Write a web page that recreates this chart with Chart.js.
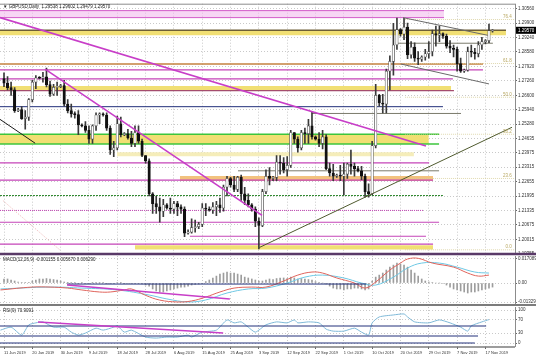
<!DOCTYPE html>
<html>
<head>
<meta charset="utf-8">
<script src="https://cdn.jsdelivr.net/npm/chart.js@4.4.1/dist/chart.umd.min.js"></script>
<style>
  html, body { margin: 0; padding: 0; background: #fff; overflow: hidden; }
  #wrap { position: relative; width: 536px; height: 358px; }
  canvas { position: absolute; left: 0; }
</style>
</head>
<body>
<div id="wrap">
  <canvas id="mainChart" width="536" height="262" style="top:0"></canvas>
  <canvas id="macdChart" width="536" height="60" style="top:250px"></canvas>
  <canvas id="rsiChart" width="536" height="58" style="top:300px"></canvas>
</div>
<script>
// ── GBPUSD daily bars, 11 Jun 2019 .. 19 Nov 2019 (Sunday bars included) ──
const opens = [1.2736,1.2716,1.2695,1.2685,1.2590,1.2595,1.2553,1.2560,1.2640,1.2720,
  1.2740,1.2738,1.2744,1.2709,1.2665,1.2696,1.2700,1.2705,1.2620,1.2590,
  1.2575,1.2572,1.2525,1.2520,1.2500,1.2460,1.2520,1.2570,1.2575,1.2570,
  1.2510,1.2410,1.2420,1.2530,1.2480,1.2485,1.2465,1.2440,1.2490,1.2450,
  1.2385,1.2360,1.2210,1.2165,1.2150,1.2130,1.2160,1.2145,1.2140,1.2165,
  1.2150,1.2140,1.2030,1.2035,1.2055,1.2060,1.2070,1.2145,1.2140,1.2135,
  1.2150,1.2160,1.2145,1.2240,1.2280,1.2250,1.2230,1.2285,1.2210,1.2180,
  1.2160,1.2140,1.2085,1.2065,1.2220,1.2290,1.2280,1.2285,1.2355,1.2350,
  1.2320,1.2340,1.2490,1.2460,1.2420,1.2490,1.2485,1.2520,1.2470,1.2460,
  1.2440,1.2470,1.2325,1.2305,1.2290,1.2295,1.2290,1.2300,1.2345,1.2335,
  1.2325,1.2315,1.2290,1.2220,1.2210,1.2430,1.2660,1.2625,1.2620,1.2770,
  1.2815,1.2890,1.2960,1.2940,1.2972,1.2845,1.2880,1.2830,1.2825,1.2835,
  1.2850,1.2860,1.2942,1.2935,1.2942,1.2930,1.2885,1.2875,1.2870,1.2805,
  1.2770,1.2775,1.2860,1.2857,1.2850,1.2890,1.2905,1.2910,1.2954];
const highs = [1.2763,1.2745,1.2720,1.2695,1.2600,1.2608,1.2590,1.2645,1.2728,1.2750,
  1.2745,1.2765,1.2784,1.2725,1.2710,1.2720,1.2710,1.2728,1.2640,1.2620,
  1.2585,1.2590,1.2530,1.2540,1.2520,1.2525,1.2580,1.2580,1.2580,1.2580,
  1.2520,1.2450,1.2565,1.2560,1.2490,1.2505,1.2495,1.2520,1.2520,1.2460,
  1.2385,1.2370,1.2215,1.2200,1.2190,1.2185,1.2165,1.2190,1.2175,1.2175,
  1.2160,1.2150,1.2045,1.2095,1.2090,1.2080,1.2165,1.2165,1.2150,1.2170,
  1.2175,1.2190,1.2250,1.2290,1.2285,1.2290,1.2290,1.2295,1.2240,1.2210,
  1.2165,1.2150,1.2100,1.2230,1.2320,1.2330,1.2290,1.2385,1.2385,1.2375,
  1.2380,1.2500,1.2490,1.2470,1.2500,1.2510,1.2550,1.2583,1.2475,1.2490,
  1.2500,1.2480,1.2350,1.2345,1.2300,1.2340,1.2350,1.2350,1.2410,1.2350,
  1.2335,1.2335,1.2300,1.2255,1.2450,1.2710,1.2665,1.2665,1.2780,1.2840,
  1.2989,1.3013,1.2965,1.3012,1.2990,1.2905,1.2900,1.2860,1.2840,1.2870,
  1.2905,1.2958,1.2976,1.2976,1.2945,1.2940,1.2910,1.2890,1.2880,1.2830,
  1.2780,1.2880,1.2890,1.2875,1.2905,1.2925,1.2915,1.2985,1.2960];
const lows = [1.2700,1.2685,1.2660,1.2582,1.2585,1.2550,1.2505,1.2545,1.2630,1.2690,
  1.2735,1.2720,1.2698,1.2655,1.2660,1.2660,1.2695,1.2610,1.2580,1.2560,
  1.2555,1.2480,1.2515,1.2490,1.2440,1.2440,1.2500,1.2530,1.2565,1.2500,
  1.2390,1.2380,1.2410,1.2470,1.2475,1.2460,1.2425,1.2425,1.2440,1.2380,
  1.2350,1.2200,1.2120,1.2120,1.2080,1.2105,1.2140,1.2120,1.2120,1.2110,
  1.2120,1.2014,1.2025,1.2030,1.2035,1.2050,1.2060,1.2110,1.2130,1.2120,
  1.2110,1.2125,1.2130,1.2200,1.2240,1.2220,1.2220,1.2180,1.2160,1.2150,
  1.2130,1.2060,1.1958,1.2060,1.2210,1.2250,1.2270,1.2270,1.2300,1.2305,
  1.2290,1.2330,1.2440,1.2400,1.2410,1.2440,1.2440,1.2460,1.2455,1.2425,
  1.2415,1.2320,1.2290,1.2270,1.2285,1.2270,1.2205,1.2280,1.2300,1.2290,
  1.2310,1.2275,1.2195,1.2195,1.2205,1.2420,1.2610,1.2580,1.2580,1.2685,
  1.2752,1.2870,1.2930,1.2914,1.2827,1.2830,1.2815,1.2800,1.2815,1.2820,
  1.2830,1.2840,1.2885,1.2905,1.2920,1.2875,1.2855,1.2835,1.2770,1.2765,
  1.2765,1.2770,1.2835,1.2825,1.2835,1.2870,1.2895,1.2900,1.2948];
const closes = [1.2716,1.2695,1.2685,1.2590,1.2595,1.2553,1.2560,1.2640,1.2720,1.2740,
  1.2738,1.2744,1.2709,1.2665,1.2696,1.2700,1.2705,1.2620,1.2590,1.2575,
  1.2572,1.2525,1.2520,1.2500,1.2460,1.2520,1.2570,1.2575,1.2570,1.2510,
  1.2410,1.2420,1.2530,1.2480,1.2485,1.2465,1.2440,1.2490,1.2450,1.2385,
  1.2360,1.2210,1.2165,1.2150,1.2130,1.2160,1.2145,1.2140,1.2165,1.2150,
  1.2140,1.2030,1.2035,1.2055,1.2060,1.2070,1.2145,1.2140,1.2135,1.2150,
  1.2160,1.2145,1.2240,1.2280,1.2250,1.2230,1.2285,1.2210,1.2180,1.2160,
  1.2140,1.2085,1.2065,1.2220,1.2290,1.2280,1.2285,1.2355,1.2350,1.2320,
  1.2340,1.2490,1.2460,1.2420,1.2490,1.2485,1.2520,1.2470,1.2460,1.2440,
  1.2470,1.2325,1.2305,1.2290,1.2295,1.2290,1.2300,1.2345,1.2335,1.2325,
  1.2315,1.2290,1.2220,1.2210,1.2430,1.2660,1.2625,1.2620,1.2770,1.2815,
  1.2890,1.2960,1.2940,1.2972,1.2845,1.2880,1.2830,1.2825,1.2835,1.2850,
  1.2860,1.2942,1.2935,1.2942,1.2930,1.2885,1.2875,1.2870,1.2805,1.2770,
  1.2775,1.2860,1.2857,1.2850,1.2890,1.2905,1.2910,1.2955,1.2957];

// ── time axis ──
const dateIdx = [0, 8, 16, 24, 32, 40, 48, 56, 64, 72, 80, 88, 96, 104, 112, 120, 128, 136];
const dateLabels = ['11 Jun 2019', '20 Jun 2019', '30 Jun 2019', '9 Jul 2019', '18 Jul 2019',
  '28 Jul 2019', '6 Aug 2019', '15 Aug 2019', '25 Aug 2019', '3 Sep 2019', '12 Sep 2019',
  '22 Sep 2019', '1 Oct 2019', '10 Oct 2019', '20 Oct 2019', '29 Oct 2019', '7 Nov 2019', '17 Nov 2019'];

// ── price axis ──
const priceTicks = [1.30560, 1.29900, 1.29240, 1.28580, 1.27920, 1.27260, 1.26600, 1.25940, 1.25280,
  1.24635, 1.23975, 1.23315, 1.22655, 1.21995, 1.21335, 1.20675, 1.20015, 1.19355];

// ── horizontal levels drawn on the chart (price, first bar, last bar) ──
const levelPrice = [1.3047, 1.3015, 1.2957, 1.2898, 1.2803, 1.2776, 1.2735, 1.2681, 1.2608, 1.2577,
  1.2482, 1.2437, 1.2351, 1.2315, 1.2272, 1.2202, 1.2134, 1.2080, 1.2016, 1.1980];
const levelFrom = [-1.13, -1.13, -1.13, 110.7, -1.13, -1.13, -1.13, -1.13, -1.13, 87.0,
  -1.13, -1.13, -1.13, 66.1, -1.13, -1.13, -1.13, -1.13, 52.5, -1.13];
const levelTo = [124.3, 124.3, 141.8, 138.1, 135.3, 135.3, 126.8, 127.1, 124.0, 129.1,
  122.9, 122.9, 120.1, 122.9, 121.2, 124.0, 118.4, 122.9, 119.2, 121.2];
const levelKind = ['pink', 'pink', 'olive', 'gray', 'orange', 'magenta', 'magenta', 'maroon', 'navy', 'gray',
  'green', 'green', 'magenta', 'gray', 'magenta', 'greenDash', 'magentaDot', 'magenta', 'magenta', 'magenta'];

// ── shaded zones (top, bottom, first bar, last bar) ──
const bandTop = [1.3047, 1.2955, 1.2703, 1.2480, 1.2400, 1.2291, 1.1975];
const bandBottom = [1.3015, 1.2934, 1.2681, 1.2437, 1.2382, 1.2268, 1.1955];
const bandFrom = [-1.13, -1.13, -1.13, -1.13, 31.9, 49.7, 37.0];
const bandTo = [124.3, 141.8, 126.3, 120.0, 115.8, 121.2, 121.2];
const bandKind = ['pink', 'yellow', 'yellow', 'yellow', 'pale', 'orange', 'yellow'];

// ── fibonacci levels ──
const fibPrice = [1.3006, 1.2805, 1.2651, 1.2482, 1.2280, 1.1954];
const fibName = ['76.4', '61.8', '50.0', '38.2', '23.6', '0.0'];
const fibFrom = 113.3;
const fibTo = 144.35;

// ── trend lines (bar, price) -> (bar, price) ──
const trendX0 = [-1.13, 11.6, -1.13, 71.8, 112.7, 112.1, -0.3];
const trendY0 = [1.3015, 1.2780, 1.2550, 1.1962, 1.3015, 1.2803, 1.2179];
const trendX1 = [119.2, 72.9, 8.8, 143.5, 136.7, 137.0, 15.8];
const trendY1 = [1.2428, 1.2111, 1.2441, 1.2514, 1.2934, 1.2712, 1.1953];
const trendKind = ['trendMagenta', 'trendMagenta', 'black', 'trendOlive', 'channel', 'channel', 'redDot'];

// ── MACD(12,26,9) ──
const macdHist = [0.0028,0.0028,0.0021,0.0014,0.0007,0.0003,0.0003,0.0003,0.0014,0.0021,
  0.0028,0.0028,0.0031,0.0028,0.0024,0.0021,0.0014,0.0007,0.0005,0.0003,
  0.0003,-0.0003,0.0002,-0.0003,-0.0004,0.0002,0.0003,0.0004,0.0002,-0.0002,
  -0.0004,-0.0003,0.0003,0.0002,-0.0002,-0.0003,-0.0004,-0.0002,-0.0003,-0.0007,
  -0.0014,-0.0021,-0.0041,-0.0055,-0.0062,-0.0062,-0.0055,-0.0048,-0.0041,-0.0035,
  -0.0028,-0.0028,-0.0021,-0.0014,-0.0010,-0.0007,-0.0003,0.0010,0.0021,0.0035,
  0.0048,0.0062,0.0069,0.0076,0.0069,0.0069,0.0062,0.0055,0.0041,0.0035,
  0.0028,0.0021,0.0014,0.0014,0.0021,0.0028,0.0024,0.0031,0.0035,0.0035,
  0.0031,0.0041,0.0035,0.0028,0.0031,0.0028,0.0024,0.0021,0.0010,0.0003,
  0.0000,-0.0007,-0.0021,-0.0035,-0.0041,-0.0041,-0.0048,-0.0041,-0.0041,-0.0035,
  -0.0035,-0.0041,-0.0048,-0.0041,0.0014,0.0041,0.0055,0.0069,0.0090,0.0110,
  0.0124,0.0138,0.0131,0.0124,0.0110,0.0090,0.0069,0.0048,0.0028,0.0014,
  0.0007,0.0003,0.0000,0.0000,-0.0003,-0.0014,-0.0028,-0.0041,-0.0048,-0.0055,
  -0.0062,-0.0069,-0.0062,-0.0062,-0.0055,-0.0048,-0.0041,-0.0035,-0.0028];
const macdX = [-1, 8, 13, 18, 22, 27, 30, 34, 36, 40, 44, 49, 53, 57, 61, 65, 70, 74, 79, 83,
  87, 90, 94, 99, 102, 105, 109, 112, 114, 117, 121, 127, 131, 134, 137];
const macdMain = [-0.0048, -0.0028, -0.0028, -0.0035, -0.0048, -0.0062, -0.0062, -0.0048, -0.0041, -0.0085,
  -0.0118, -0.0131, -0.0124, -0.0097, -0.0062, -0.0035, -0.0028, -0.0028, 0.0014, 0.0055,
  0.0076, 0.0069, 0.0035, 0.0000, -0.0035, 0.0007, 0.0090, 0.0138, 0.0166, 0.0171,
  0.0138, 0.0110, 0.0069, 0.0048, 0.0055];
const sigX = [-1, 13, 22, 32, 41, 46, 52, 57, 63, 69, 74, 80, 85, 90, 96, 101, 105, 110, 114, 118,
  123, 128, 133, 137];
const macdSignal = [-0.0041, -0.0028, -0.0035, -0.0048, -0.0083, -0.0110, -0.0131, -0.0117, -0.0069, -0.0041,
  -0.0035, 0.0000, 0.0041, 0.0055, 0.0035, 0.0000, -0.0014, 0.0041, 0.0104, 0.0138,
  0.0138, 0.0110, 0.0076, 0.0069];
const macdTicks = [0.017089, 0, -0.01329];
const macdTickText = ['0.017089', '0.00', '-0.013290'];
const macdLineX0 = [17.8, 17.8];
const macdLineY0 = [-0.0014, -0.0007];
const macdLineX1 = [63.8, 102.3];
const macdLineY1 = [-0.0110, -0.0007];
const macdLineKind = ['trendMagenta', 'navy'];

// ── RSI(9) ──
const rsiX = [-1, 2, 5, 7, 9, 11, 14, 17, 19, 21, 23, 26, 28, 31, 32, 34, 36, 40, 43, 46,
  49, 52, 53, 56, 60, 63, 65, 67, 69, 71, 74, 77, 80, 82, 83, 86, 89, 91, 93, 96,
  99, 101, 103, 104, 106, 110, 113, 114, 116, 120, 123, 126, 129, 131, 132, 135, 137];
const rsiVal = [39, 48, 24, 55, 61, 64, 48, 48, 33, 24, 30, 45, 39, 48, 52, 33, 39, 18, 15, 18,
  18, 24, 18, 33, 39, 70, 61, 64, 48, 33, 55, 64, 61, 70, 61, 64, 61, 42, 36, 36,
  45, 33, 24, 61, 79, 85, 88, 79, 64, 61, 70, 61, 48, 36, 52, 64, 70.9];
const rsiTicks = [100, 70, 30, 0];
const rsiLineX0 = [9.6, -1.13, -1.13, -1.13];
const rsiLineY0 = [63.6, 51.5, 21.2, 0];
const rsiLineX1 = [61.9, 136.2, 133.9, 133.0];
const rsiLineY1 = [30.3, 51.5, 21.2, 0];
const rsiLineKind = ['trendMagenta', 'navy', 'navy', 'navy'];

// ── view ranges ──
const X_MIN = -1.13, X_MAX = 144.35;
const P_MIN = 1.19348, P_MAX = 1.30786;

// ── styles ──
const GRID = '#c9c9c9';
const FONT = "'Liberation Sans', 'DejaVu Sans', sans-serif";
const LINE = {
  pink:         { borderColor: '#d35ac8', borderWidth: 1 },
  olive:        { borderColor: '#6e5f36', borderWidth: 1.5 },
  gray:         { borderColor: '#7b7b6b', borderWidth: 1 },
  orange:       { borderColor: '#c4823f', borderWidth: 1.5 },
  magenta:      { borderColor: '#c544b8', borderWidth: 1.2 },
  maroon:       { borderColor: '#a44d6e', borderWidth: 1.2 },
  navy:         { borderColor: '#22307a', borderWidth: 1 },
  green:        { borderColor: '#3cc63c', borderWidth: 1.5 },
  greenDash:    { borderColor: '#2f8a2f', borderWidth: 1, borderDash: [2, 1] },
  magentaDot:   { borderColor: '#c544b8', borderWidth: 1, borderDash: [1, 1] },
  black:        { borderColor: '#1a1a1a', borderWidth: 1 },
  trendMagenta: { borderColor: '#c83ec8', borderWidth: 1.6 },
  trendOlive:   { borderColor: '#4f5a2e', borderWidth: 1 },
  channel:      { borderColor: '#6a6a6a', borderWidth: 1 },
  redDot:       { borderColor: '#e8a0a0', borderWidth: 0.8, borderDash: [1, 1.5] },
  fib:          { borderColor: '#d8cf9c', borderWidth: 0.8, borderDash: [1, 1] }
};
const BAND = {
  pink: 'rgba(241,186,236,0.6)',
  yellow: '#f1df73',
  pale: '#f5edba',
  orange: '#f2c27e'
};

Chart.defaults.font.family = FONT;
Chart.defaults.font.size = 5;
Chart.defaults.color = '#333';

const bars = opens.map((_, i) => i);

function segment(x0, y0, x1, y1, kind, order) {
  return Object.assign({
    type: 'line', order,
    data: [{ x: x0, y: y0 }, { x: x1, y: y1 }],
    pointRadius: 0, fill: false, tension: 0
  }, LINE[kind]);
}

function xAxis(withLabels) {
  return {
    type: 'linear', min: X_MIN, max: X_MAX, offset: false,
    afterBuildTicks: s => { s.ticks = dateIdx.map(v => ({ value: v })); },
    afterFit: s => { s.height = withLabels ? 11 : 0; },
    grid: { color: GRID, offset: false, drawTicks: withLabels, tickLength: 2, tickColor: '#666' },
    border: { display: false, dash: [1, 2] },
    ticks: {
      display: withLabels, autoSkip: false, maxRotation: 0, align: 'start', padding: 1,
      font: { size: 4 }, color: '#333',
      callback: (v, i) => dateLabels[i]
    }
  };
}

function yAxis(min, max, tickVals, tickText) {
  return {
    position: 'right', min, max,
    afterBuildTicks: s => { s.ticks = tickVals.map(v => ({ value: v })); },
    afterFit: s => { s.width = 21; },
    grid: { color: GRID, tickLength: 2, tickColor: '#666' },
    border: { display: false, dash: [1, 2] },
    ticks: { autoSkip: false, padding: 1, font: { size: 4.5 }, color: '#333', callback: (v, i) => tickText[i] }
  };
}

// frame lines + caption of each window
const panelDecor = {
  id: 'panelDecor',
  afterDraw(chart, args, opts) {
    const { ctx, chartArea: a } = chart;
    ctx.save();
    ctx.strokeStyle = '#8c8c8c';
    ctx.lineWidth = 1;
    ctx.beginPath();
    ctx.moveTo(a.right + 0.5, a.top);
    ctx.lineTo(a.right + 0.5, a.bottom);
    if (opts.topLine) {
      ctx.moveTo(a.left, a.top + 0.5);
      ctx.lineTo(a.right, a.top + 0.5);
    }
    ctx.stroke();
    ctx.strokeStyle = opts.bottomColor;
    ctx.lineWidth = opts.bottomWidth;
    ctx.beginPath();
    ctx.moveTo(a.left, a.bottom);
    ctx.lineTo(opts.bottomToEdge ? chart.width : a.right, a.bottom);
    ctx.stroke();
    ctx.font = '4.5px ' + FONT;
    ctx.fillStyle = '#222';
    ctx.textAlign = 'left';
    ctx.textBaseline = 'middle';
    ctx.fillText(opts.caption, a.left + 3, a.top + opts.captionDy);
    ctx.restore();
  }
};

// fibonacci captions and the last-price box
const mainExtras = {
  id: 'mainExtras',
  afterDraw(chart) {
    const { ctx, scales: { x, y }, chartArea: a } = chart;
    ctx.save();
    ctx.font = '4.5px ' + FONT;
    ctx.fillStyle = '#b9a862';
    ctx.textAlign = 'right';
    ctx.textBaseline = 'bottom';
    fibPrice.forEach((p, k) => ctx.fillText(fibName[k], x.getPixelForValue(143.4), y.getPixelForValue(p) - 0.5));
    const last = closes[closes.length - 1];
    const py = y.getPixelForValue(last);
    ctx.fillStyle = '#000';
    ctx.fillRect(a.right + 1, py - 3.5, chart.width - a.right - 1, 7);
    ctx.fillStyle = '#fff';
    ctx.textAlign = 'left';
    ctx.textBaseline = 'middle';
    ctx.fillText(last.toFixed(5), a.right + 3, py);
    ctx.restore();
  }
};

// ────────────────────────────────────────────
// 1. Price window
// ────────────────────────────────────────────
const mainSets = [];
bandTop.forEach((top, k) => mainSets.push({
  type: 'line', order: 40,
  data: [{ x: bandFrom[k], y: top }, { x: bandTo[k], y: top }],
  fill: { value: bandBottom[k] }, backgroundColor: BAND[bandKind[k]],
  borderWidth: 0, pointRadius: 0
}));
levelPrice.forEach((p, k) => mainSets.push(segment(levelFrom[k], p, levelTo[k], p, levelKind[k], 30)));
fibPrice.forEach(p => mainSets.push(segment(fibFrom, p, fibTo, p, 'fib', 29)));
mainSets.push({
  type: 'bar', order: 6, grouped: false,
  data: bars.map(i => ({ x: i, y: [lows[i], highs[i]] })),
  backgroundColor: '#3a3a3a', barThickness: 1
});
mainSets.push({
  type: 'bar', order: 5, grouped: false,
  data: bars.map(i => ({ x: i, y: [opens[i], closes[i]] })),
  backgroundColor: bars.map(i => closes[i] >= opens[i] ? '#ffffff' : '#111111'),
  borderColor: bars.map(i => closes[i] >= opens[i] ? '#555555' : '#111111'),
  borderWidth: 0.7, borderSkipped: false, barThickness: 2.5, minBarLength: 1
});
trendX0.forEach((x0, k) => mainSets.push(segment(x0, trendY0[k], trendX1[k], trendY1[k], trendKind[k], 1)));

new Chart(document.getElementById('mainChart'), {
  type: 'bar',
  data: { datasets: mainSets },
  options: {
    responsive: false, animation: false, events: [],
    layout: { padding: { top: 1, bottom: 8, left: 0, right: 0 } },
    plugins: {
      legend: { display: false }, tooltip: { enabled: false },
      panelDecor: {
        caption: '\u25BC GBPUSD,Daily  1.29538 1.29602 1.29479 1.29570',
        captionDy: 3, topLine: true, bottomColor: '#5a3a68', bottomWidth: 2.5, bottomToEdge: true
      }
    },
    scales: {
      x: xAxis(false),
      y: yAxis(P_MIN, P_MAX, priceTicks, priceTicks.map(v => v.toFixed(5)))
    }
  },
  plugins: [panelDecor, mainExtras]
});

// ────────────────────────────────────────────
// 2. MACD window
// ────────────────────────────────────────────
const macdSets = [
  {
    type: 'bar', order: 5, grouped: false,
    data: macdHist.map((v, i) => ({ x: i, y: v })),
    backgroundColor: '#9d9d9d', barThickness: 1
  },
  {
    type: 'line', order: 3, data: macdX.map((x, k) => ({ x, y: macdMain[k] })),
    borderColor: '#e0645c', borderWidth: 1, pointRadius: 0, tension: 0.4, fill: false
  },
  {
    type: 'line', order: 4, data: sigX.map((x, k) => ({ x, y: macdSignal[k] })),
    borderColor: '#6ec8e4', borderWidth: 1, pointRadius: 0, tension: 0.4, fill: false
  }
];
macdLineX0.forEach((x0, k) => macdSets.push(segment(x0, macdLineY0[k], macdLineX1[k], macdLineY1[k], macdLineKind[k], 1)));

new Chart(document.getElementById('macdChart'), {
  type: 'bar',
  data: { datasets: macdSets },
  options: {
    responsive: false, animation: false, events: [],
    layout: { padding: { top: 6, bottom: 5, left: 0, right: 0 } },
    plugins: {
      legend: { display: false }, tooltip: { enabled: false },
      panelDecor: {
        caption: 'MACD(12,26,9) -0.001155 0.005670 0.006290',
        captionDy: 4, bottomColor: '#7c7c7c', bottomWidth: 2, bottomToEdge: true
      }
    },
    scales: {
      x: xAxis(false),
      y: yAxis(-0.0152, 0.0187, macdTicks, macdTickText)
    }
  },
  plugins: [panelDecor]
});

// ────────────────────────────────────────────
// 3. RSI window
// ────────────────────────────────────────────
const rsiSets = [
  {
    type: 'line', order: 3, data: rsiX.map((x, k) => ({ x, y: rsiVal[k] })),
    borderColor: '#7fb9d8', borderWidth: 1, pointRadius: 0, tension: 0.2, fill: false
  }
];
rsiLineX0.forEach((x0, k) => rsiSets.push(segment(x0, rsiLineY0[k], rsiLineX1[k], rsiLineY1[k], rsiLineKind[k], 1)));

new Chart(document.getElementById('rsiChart'), {
  type: 'line',
  data: { datasets: rsiSets },
  options: {
    responsive: false, animation: false, events: [],
    layout: { padding: { top: 7, bottom: 0, left: 0, right: 0 } },
    plugins: {
      legend: { display: false }, tooltip: { enabled: false },
      panelDecor: {
        caption: 'RSI(9) 70.9091',
        captionDy: 4, bottomColor: '#7c7c7c', bottomWidth: 1.5, bottomToEdge: false
      }
    },
    scales: {
      x: xAxis(true),
      y: yAxis(-12.1, 109.1, rsiTicks, rsiTicks.map(String))
    }
  },
  plugins: [panelDecor]
});
</script>
</body>
</html>
